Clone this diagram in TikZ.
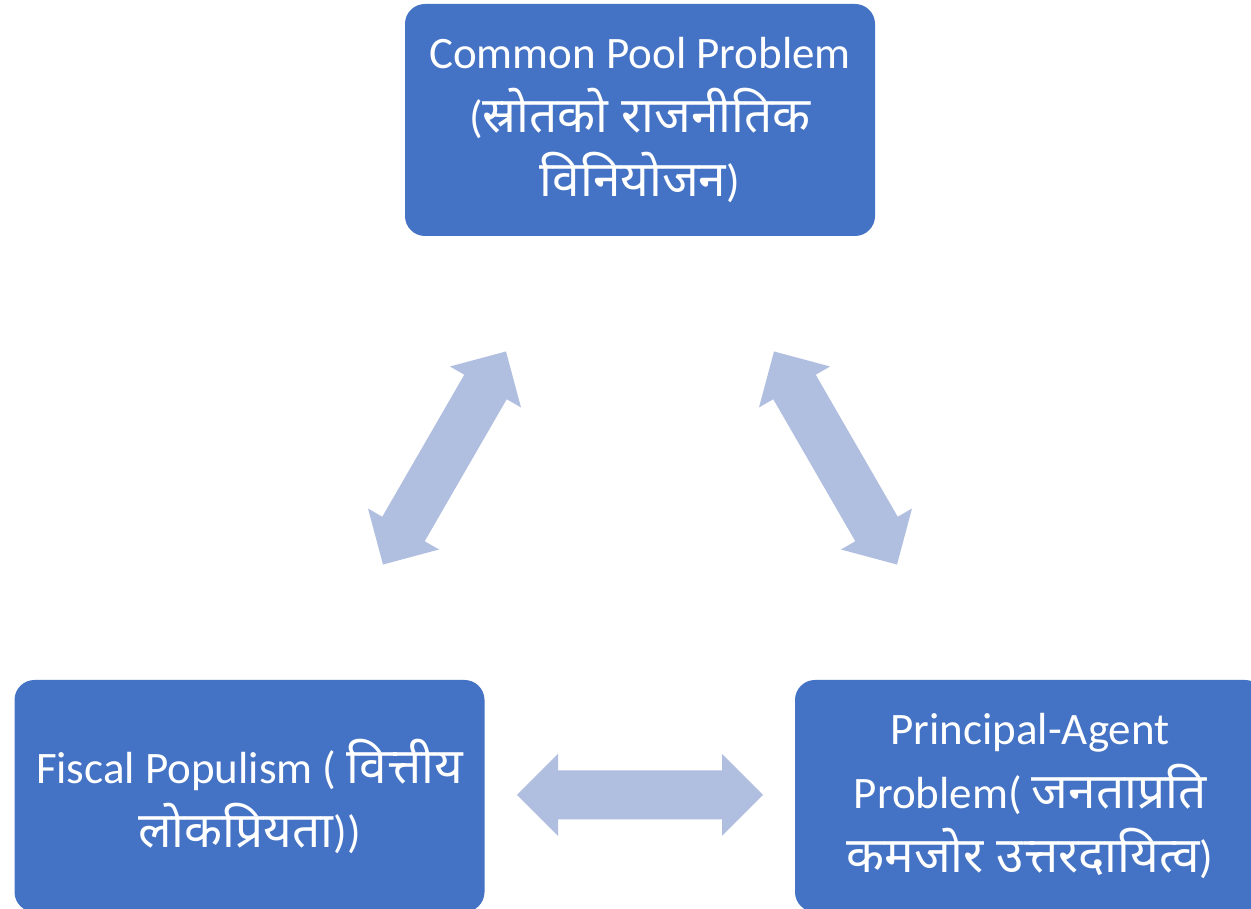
\documentclass[tikz,border=0pt]{standalone}
\usepackage{fontspec}
\setmainfont{Carlito}
\newfontfamily\deva[Script=Devanagari,Scale=1.1]{Noto Sans}
\definecolor{boxblue}{HTML}{4472C4}
\definecolor{arrowblue}{HTML}{B0BEDF}
\tikzset{
  boxnode/.style={fill=boxblue, draw=none, rounded corners=20pt, text=white,
    minimum width=470pt, minimum height=232pt, inner sep=0pt, align=center,
    font=\fontsize{45}{64}\selectfont},
  dblarrow/.pic={
    \fill[arrowblue] (-123,0) -- (-82,41) -- (-82,24.5) -- (82,24.5) -- (82,41)
      -- (123,0) -- (82,-41) -- (82,-24.5) -- (-82,-24.5) -- (-82,-41) -- cycle;
  }
}
\begin{document}
\begin{tikzpicture}[x=1pt,y=1pt]
\useasboundingbox (0,0) rectangle (1251,909);
\clip (0,0) rectangle (1251,909);
\fill[white] (0,0) rectangle (1251,909);
\node[boxnode] (cpp) at (640,789) {Common Pool Problem\\({\deva स्रोतको राजनीतिक}\\{\deva विनियोजन})};
\node[boxnode] (fp) at (249.5,113) {Fiscal Populism ( {\deva वित्तीय}\\{\deva लोकप्रियता}))};
\node[boxnode] (pap) at (1030,113) {Principal-Agent\\Problem( {\deva जनताप्रति}\\{\deva कमजोर उत्तरदायित्व})};
\coordinate (aL) at (444.5,451);
\coordinate (aR) at (835.5,451);
\coordinate (aB) at (640,114);
\pic[rotate=60] at (aL) {dblarrow};
\pic[rotate=120] at (aR) {dblarrow};
\pic at (aB) {dblarrow};
\end{tikzpicture}
\end{document}
